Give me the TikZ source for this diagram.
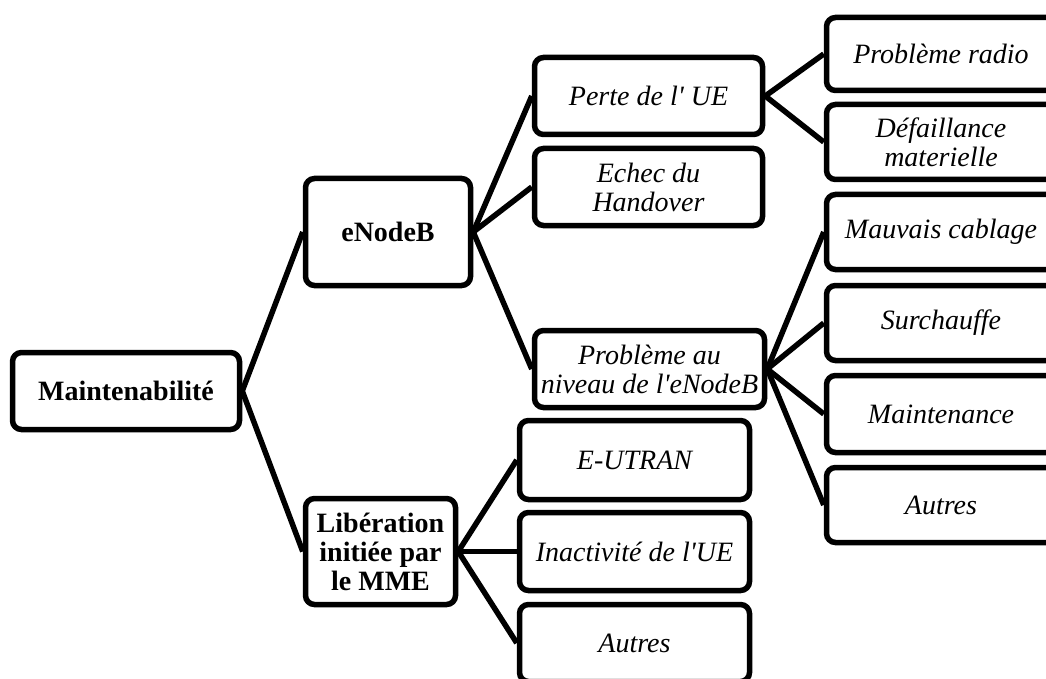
\documentclass[tikz,border=0pt]{standalone}
\usepackage{fontspec}
\newfontfamily\tnr{Liberation Serif}
\tikzset{
  box/.style={draw, line width=5.5pt, rounded corners=9pt, fill=white,
    align=center, inner sep=0pt,
    font=\tnr\fontsize{28}{29}\selectfont\itshape},
  headbox/.style={box, font=\tnr\fontsize{28}{29}\selectfont\bfseries},
  link/.style={line width=5.5pt},
}
\begin{document}
\begin{tikzpicture}[x=1pt, y=-1pt]
  \useasboundingbox (0,0) rectangle (1046,679);
  \clip (0,0) rectangle (1046,679);

  % root and first level
  \node[headbox, minimum width=227pt, minimum height=77pt] (root) at (126,391) {Maintenabilité};
  \node[headbox, minimum width=165pt, minimum height=107pt] (enb) at (388,232) {eNodeB};
  \node[headbox, minimum width=150pt, minimum height=106pt] (lib) at (380.5,551.5) {Libération\\initiée par\\le MME};

  % second level
  \node[box, minimum width=228pt, minimum height=77pt] (perte) at (648.5,96) {Perte de l' UE};
  \node[box, minimum width=228pt, minimum height=77pt] (echec) at (648.5,187) {Echec du\\Handover};
  \node[box, minimum width=230pt, minimum height=77pt] (pbn) at (649.5,369) {Problème au\\niveau de l'eNodeB};
  \node[box, minimum width=230pt, minimum height=79pt] (eut) at (634.5,460) {E-UTRAN};
  \node[box, minimum width=230pt, minimum height=78pt] (inact) at (634.5,551.5) {Inactivité de l'UE};
  \node[box, minimum width=230pt, minimum height=77pt] (autA) at (634.5,643) {Autres};

  % third level
  \node[box, minimum width=229pt, minimum height=73pt] (pr) at (941,54) {Problème radio};
  \node[box, minimum width=229pt, minimum height=75pt] (def) at (941,142) {Défaillance\\materielle};
  \node[box, minimum width=229pt, minimum height=75pt] (mc) at (941,232) {Mauvais cablage};
  \node[box, minimum width=229pt, minimum height=75pt] (sur) at (941,323) {Surchauffe};
  \node[box, minimum width=229pt, minimum height=77pt] (mt) at (941,414) {Maintenance};
  \node[box, minimum width=229pt, minimum height=75pt] (autB) at (941,505) {Autres};

  % connectors
  \draw[link] (root.east) -- (enb.west);
  \draw[link] (root.east) -- (lib.west);
  \draw[link] (enb.east) -- (perte.west);
  \draw[link] (enb.east) -- (echec.west);
  \draw[link] (enb.east) -- (pbn.west);
  \draw[link] (perte.east) -- (pr.west);
  \draw[link] (perte.east) -- (def.west);
  \draw[link] (pbn.east) -- (mc.west);
  \draw[link] (pbn.east) -- (sur.west);
  \draw[link] (pbn.east) -- (mt.west);
  \draw[link] (pbn.east) -- (autB.west);
  \draw[link] (lib.east) -- (eut.west);
  \draw[link] (lib.east) -- (inact.west);
  \draw[link] (lib.east) -- (autA.west);
\end{tikzpicture}
\end{document}
